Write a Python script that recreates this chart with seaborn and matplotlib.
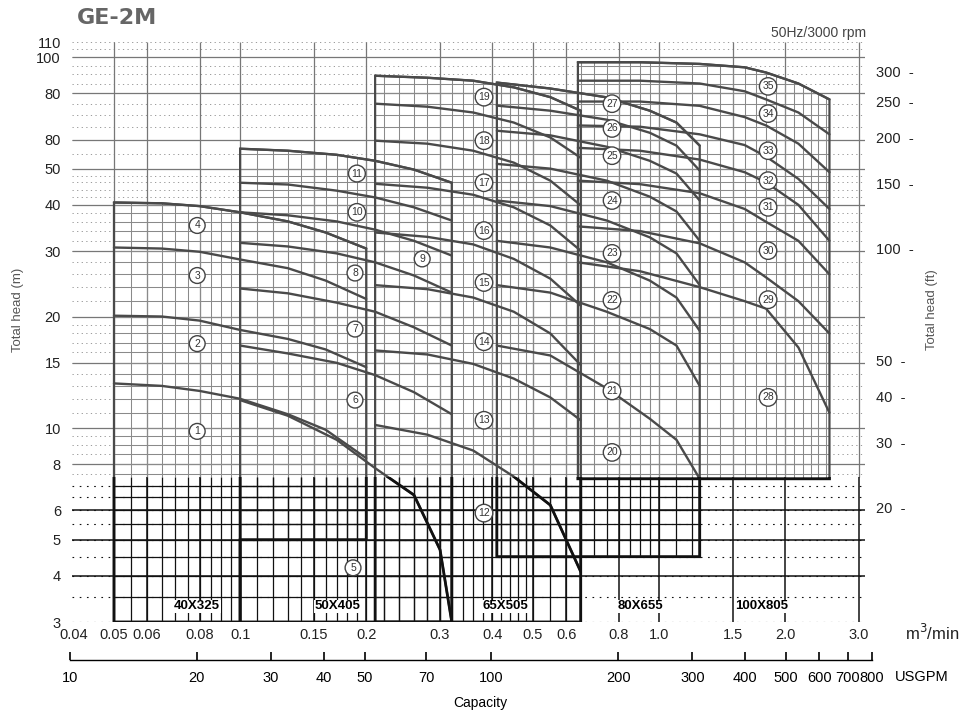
import numpy as np
import pandas as pd
import seaborn as sns
import matplotlib.pyplot as plt
from matplotlib.patches import Polygon, Rectangle
from matplotlib.ticker import NullLocator, NullFormatter

sns.set_theme(style="white")
plt.rcParams['font.family'] = ['Liberation Sans', 'DejaVu Sans']

# capacity (m3/min) points and heads (m), one block per pump size
q_40x325 = [0.05, 0.065, 0.08, 0.1, 0.13, 0.16, 0.2]
h_40x325 = {
    1: [13.2, 13.0, 12.6, 12.0, 10.9, 9.9, 8.3],
    2: [20.1, 20.0, 19.5, 18.4, 17.4, 16.3, 14.6],
    3: [30.7, 30.5, 29.9, 28.5, 27.0, 25.0, 22.3],
    4: [40.6, 40.4, 39.7, 38.2, 36.1, 33.7, 30.5],
}

q_curve5 = [0.1, 0.13, 0.17, 0.21, 0.26, 0.3, 0.32]
h_curve5 = [11.9, 10.8, 9.3, 7.8, 6.6, 4.7, 3.0]

q_50x405 = [0.1, 0.13, 0.17, 0.21, 0.26, 0.32]
h_50x405 = {
    6: [16.7, 15.9, 15.0, 13.9, 12.5, 10.9],
    7: [23.8, 23.1, 21.8, 20.6, 18.7, 16.7],
    8: [31.6, 30.9, 29.6, 28.0, 25.8, 23.2],
    9: [38.2, 37.5, 36.1, 34.3, 32.0, 29.2],
    10: [45.9, 45.4, 43.7, 41.9, 39.4, 36.3],
    11: [56.7, 56.0, 54.6, 52.6, 49.8, 45.9],
}

q_65x505 = [0.21, 0.28, 0.36, 0.45, 0.55, 0.65]
h_65x505 = {
    12: [10.2, 9.6, 8.7, 7.4, 6.2, 4.1],
    13: [16.2, 15.8, 14.9, 13.6, 12.1, 10.5],
    14: [24.3, 23.7, 22.5, 20.6, 18.0, 14.8],
    15: [33.7, 32.8, 31.3, 28.6, 25.3, 21.4],
    16: [45.6, 44.5, 42.6, 39.4, 35.2, 30.1],
    17: [59.6, 58.5, 56.0, 52.0, 46.5, 39.9],
    18: [75.0, 73.6, 71.0, 66.7, 60.8, 53.6],
    19: [89.2, 88.1, 86.5, 83.0, 78.1, 71.8],
}

q_80x655 = [0.41, 0.55, 0.75, 0.95, 1.1, 1.25]
h_80x655 = {
    20: [16.7, 15.7, 12.8, 10.6, 9.3, 7.3],
    21: [24.3, 23.2, 20.6, 18.5, 16.7, 13.0],
    22: [32.0, 30.7, 28.0, 25.0, 22.5, 18.3],
    23: [41.1, 39.7, 36.3, 32.7, 29.6, 24.3],
    24: [51.6, 50.1, 46.5, 42.1, 38.4, 32.0],
    25: [63.4, 61.6, 57.4, 52.6, 48.6, 41.1],
    26: [74.1, 71.8, 67.9, 62.6, 57.8, 49.5],
    27: [85.5, 82.4, 78.0, 71.8, 66.7, 57.8],
}

q_100x805 = [0.64, 0.9, 1.25, 1.6, 1.8, 2.15, 2.55]
h_100x805 = {
    28: [28.0, 26.5, 24.0, 22.0, 21.0, 16.5, 11.0],
    29: [35.0, 34.0, 31.5, 28.0, 25.5, 22.0, 18.0],
    30: [46.5, 45.5, 43.0, 39.0, 36.0, 32.0, 26.0],
    31: [57.0, 56.0, 53.0, 49.0, 46.0, 40.0, 32.0],
    32: [65.5, 65.0, 62.0, 58.0, 54.0, 47.0, 39.0],
    33: [76.0, 76.0, 74.0, 69.0, 65.5, 58.5, 49.0],
    34: [86.5, 86.5, 85.0, 81.0, 77.0, 71.0, 62.0],
    35: [97.0, 97.0, 96.0, 94.0, 91.0, 85.0, 77.0],
}

# lower edge of each pump-size field (m)
bottom_40x325 = 5.0
step_40x325 = 0.1
bottom_50x405 = 3.0
bottom_65x505 = 3.0
bottom_80x655 = 4.5
bottom_100x805 = 7.3

# the lower band of the sheet is printed darker
dark_band_top = 7.4

# circled curve numbers: (capacity, head)
tags_40x325 = {4: (0.079, 35.2), 3: (0.079, 25.8), 2: (0.079, 16.9), 1: (0.079, 9.8)}
tags_50x405 = {11: (0.19, 48.6), 10: (0.19, 38.2), 9: (0.272, 28.6), 8: (0.188, 26.2),
               7: (0.188, 18.5), 6: (0.188, 11.9), 5: (0.186, 4.2)}
tags_65x505 = {19: (0.382, 78.1), 18: (0.382, 59.6), 17: (0.382, 45.9), 16: (0.382, 34.1),
               15: (0.382, 24.7), 14: (0.382, 17.1), 13: (0.382, 10.5), 12: (0.382, 5.9)}
tags_80x655 = {27: (0.772, 75.0), 26: (0.772, 64.3), 25: (0.772, 54.3), 24: (0.772, 41.1),
               23: (0.772, 29.6), 22: (0.772, 22.1), 21: (0.772, 12.6), 20: (0.772, 8.6)}
tags_100x805 = {35: (1.82, 83.5), 34: (1.82, 70.5), 33: (1.82, 56.0), 32: (1.82, 46.5),
                31: (1.82, 39.4), 30: (1.82, 30.1), 29: (1.82, 22.2), 28: (1.82, 12.1)}

sizes = ["40X325", "50X405", "65X505", "80X655", "100X805"]
size_q = [0.079, 0.171, 0.429, 0.90, 1.76]
size_h = 3.31

x_ticks = [0.04, 0.05, 0.06, 0.08, 0.1, 0.15, 0.2, 0.3, 0.4, 0.5, 0.6, 0.8, 1.0, 1.5, 2.0, 3.0]
x_labels = ["0.04", "0.05", "0.06", "0.08", "0.1", "0.15", "0.2", "0.3", "0.4", "0.5",
            "0.6", "0.8", "1.0", "1.5", "2.0", "3.0"]
y_ticks = [3, 4, 5, 6, 8, 10, 15, 20, 30, 40, 50, 60, 80, 100, 110]
y_labels = ["3", "4", "5", "6", "8", "10", "15", "20", "30", "40", "50", "80", "80", "100", "110"]
ft_ticks = [20, 30, 40, 50, 100, 150, 200, 250, 300]
gpm_ticks = [10, 20, 30, 40, 50, 70, 100, 200, 300, 400, 500, 600, 700, 800]

# long table of all curves
rows = []
for heads, qs in [(h_40x325, q_40x325), (h_50x405, q_50x405), (h_65x505, q_65x505),
                  (h_80x655, q_80x655), (h_100x805, q_100x805)]:
    for n, hs in heads.items():
        for q, h in zip(qs, hs):
            rows.append((n, q, h))
for q, h in zip(q_curve5, h_curve5):
    rows.append((5, q, h))
df = pd.DataFrame(rows, columns=["curve", "Q", "H"])

fig = plt.figure(figsize=(9.64, 7.12), dpi=100)
ax = fig.add_axes([72 / 964, 1 - 622 / 712, 793 / 964, 580 / 712])
ax.set_xscale("log")
ax.set_yscale("log")
xmin, xmax, ymin, ymax = 0.0397, 3.1, 3.0, 110.0
ax.set_xlim(xmin, xmax)
ax.set_ylim(ymin, ymax)

grid_c = "#8a8a8a"
line_c = "#4a4a4a"
dark_c = "#111111"

gx = np.concatenate([np.arange(0.04, 0.1, 0.005), np.arange(0.1, 0.2, 0.01),
                     np.arange(0.2, 0.5, 0.02), np.arange(0.5, 1.0, 0.05),
                     np.arange(1.0, 3.05, 0.1)])
gy = np.concatenate([np.arange(3, 10, 0.5), np.arange(10, 20, 1.0),
                     np.arange(20, 50, 2.0), np.arange(50, 111, 5.0)])
gy_hi = gy[gy >= dark_band_top]
gy_lo = gy[gy < dark_band_top]

# sparse grid over the whole sheet
ax.hlines(gy_hi, xmin, xmax, colors=grid_c, lw=0.6, linestyles=(0, (1.5, 4)))
ax.hlines(gy_lo, xmin, xmax, colors=dark_c, lw=0.8, linestyles=(0, (1.5, 5)))
ax.hlines([t for t in y_ticks[:-1] if t >= dark_band_top], xmin, xmax, colors="#777777", lw=0.9)
ax.hlines([t for t in y_ticks if t < dark_band_top][1:], xmin, xmax, colors=dark_c, lw=1.1)
ax.vlines(x_ticks[1:], dark_band_top, ymax, colors="#777777", lw=0.9)
ax.vlines(x_ticks[1:], ymin, dark_band_top, colors=dark_c, lw=1.1)

# pump-size fields with dense grid
fields = [
    [(q_40x325[0], ymin)] + list(zip(q_40x325, h_40x325[4]))
    + [(q_40x325[-1], bottom_40x325), (step_40x325, bottom_40x325), (step_40x325, ymin)],
    [(q_50x405[0], bottom_50x405)] + list(zip(q_50x405, h_50x405[11])) + [(q_50x405[-1], bottom_50x405)],
    [(q_65x505[0], bottom_65x505)] + list(zip(q_65x505, h_65x505[19])) + [(q_65x505[-1], bottom_65x505)],
    [(q_80x655[0], bottom_80x655)] + list(zip(q_80x655, h_80x655[27])) + [(q_80x655[-1], bottom_80x655)],
    [(q_100x805[0], bottom_100x805)] + list(zip(q_100x805, h_100x805[35])) + [(q_100x805[-1], bottom_100x805)],
]
for verts in fields:
    patch = Polygon(verts, closed=True, fill=False, edgecolor=line_c, lw=1.6,
                    transform=ax.transData, zorder=3)
    ax.add_patch(patch)
    for coll in [ax.vlines(gx, dark_band_top, ymax, colors=grid_c, lw=0.75),
                 ax.hlines(gy_hi, xmin, xmax, colors=grid_c, lw=0.75),
                 ax.vlines(gx, ymin, dark_band_top, colors=dark_c, lw=0.9),
                 ax.hlines(gy_lo, xmin, xmax, colors=dark_c, lw=0.9)]:
        coll.set_clip_path(patch)

sns.lineplot(data=df, x="Q", y="H", units="curve", estimator=None, sort=False,
             color=line_c, lw=1.7, legend=False, ax=ax, zorder=4)

# darker overprint of curves and field edges inside the lower band
band = Rectangle((xmin, ymin), xmax - xmin, dark_band_top - ymin, transform=ax.transData)
n_before = len(ax.lines)
sns.lineplot(data=df, x="Q", y="H", units="curve", estimator=None, sort=False,
             color=dark_c, lw=2.0, legend=False, ax=ax, zorder=5)
for ln in ax.lines[n_before:]:
    ln.set_clip_path(band)
for verts in fields:
    edge = Polygon(verts, closed=True, fill=False, edgecolor=dark_c, lw=2.0,
                   transform=ax.transData, zorder=5)
    ax.add_patch(edge)
    edge.set_clip_path(band)

for tags in [tags_40x325, tags_50x405, tags_65x505, tags_80x655, tags_100x805]:
    for n, (q, h) in tags.items():
        ax.text(q, h, str(n), ha="center", va="center", fontsize=7.5, color="#333333", zorder=6,
                bbox=dict(boxstyle="circle,pad=0.28", fc="white", ec="#444444", lw=1.0))

for name, q in zip(sizes, size_q):
    ax.text(q, size_h, name, ha="center", va="center", fontsize=9.5, fontweight="bold",
            color="black", zorder=6, bbox=dict(fc="white", ec="none", pad=0.5))

ax.set_xlabel("")
ax.set_ylabel("")
for s in ax.spines.values():
    s.set_visible(False)
ax.set_xticks(x_ticks, x_labels)
ax.set_yticks(y_ticks, y_labels)
ax.xaxis.set_minor_locator(NullLocator())
ax.yaxis.set_minor_locator(NullLocator())
ax.xaxis.set_minor_formatter(NullFormatter())
ax.yaxis.set_minor_formatter(NullFormatter())
ax.tick_params(axis="x", length=0, pad=4, labelsize=10.5, colors="#222222")
ax.tick_params(axis="y", length=0, pad=8, labelsize=10.5, colors="#222222")

# head in feet on the right
sec_y = ax.secondary_yaxis("right", functions=(lambda m: m * 3.28084, lambda f: f / 3.28084))
sec_y.set_yticks(ft_ticks, [str(t) + "  -" for t in ft_ticks])
sec_y.yaxis.set_minor_locator(NullLocator())
sec_y.yaxis.set_minor_formatter(NullFormatter())
sec_y.spines["right"].set_visible(False)
sec_y.tick_params(length=0, pad=8, labelsize=10.5, colors="#222222")

# capacity in USGPM: separate scale drawn under the sheet, ticks pointing up
gax = fig.add_axes([70 / 964, 1 - 660 / 712, 802 / 964, 0.0001])
gax.set_xscale("log")
gax.set_xlim(gpm_ticks[0], gpm_ticks[-1])
gax.set_yticks([])
gax.set_facecolor("none")
for side in ["left", "right", "bottom"]:
    gax.spines[side].set_visible(False)
gax.spines["top"].set_color("black")
gax.spines["top"].set_linewidth(1.0)
gax.set_xticks(gpm_ticks, [str(t) for t in gpm_ticks])
gax.xaxis.set_minor_locator(NullLocator())
gax.xaxis.set_minor_formatter(NullFormatter())
gax.tick_params(axis="x", top=True, bottom=False, labeltop=False, labelbottom=True,
                direction="out", length=6, width=1.2, pad=2, labelsize=10.5, colors="black")

fig.text(77 / 964, 1 - 18 / 712, "GE-2M", fontsize=16, fontweight="heavy", color="#666666",
         ha="left", va="center", family="DejaVu Sans")
fig.text(866 / 964, 1 - 33 / 712, "50Hz/3000 rpm", fontsize=10, color="#444444", ha="right", va="center")
fig.text(18 / 964, 1 - 310 / 712, "Total head (m)", fontsize=9.5, color="#555555", rotation=90,
         ha="center", va="center")
fig.text(932 / 964, 1 - 310 / 712, "Total head (ft)", fontsize=9.5, color="#555555", rotation=90,
         ha="center", va="center")
fig.text(905 / 964, 1 - 633 / 712, "m$^3$/min", fontsize=12, color="#222222", ha="left", va="center")
fig.text(895 / 964, 1 - 677 / 712, "USGPM", fontsize=10.5, color="black", ha="left", va="center")
fig.text(480 / 964, 1 - 703 / 712, "Capacity", fontsize=10, color="black", ha="center", va="center")

fig.savefig("out.png", dpi=100)
